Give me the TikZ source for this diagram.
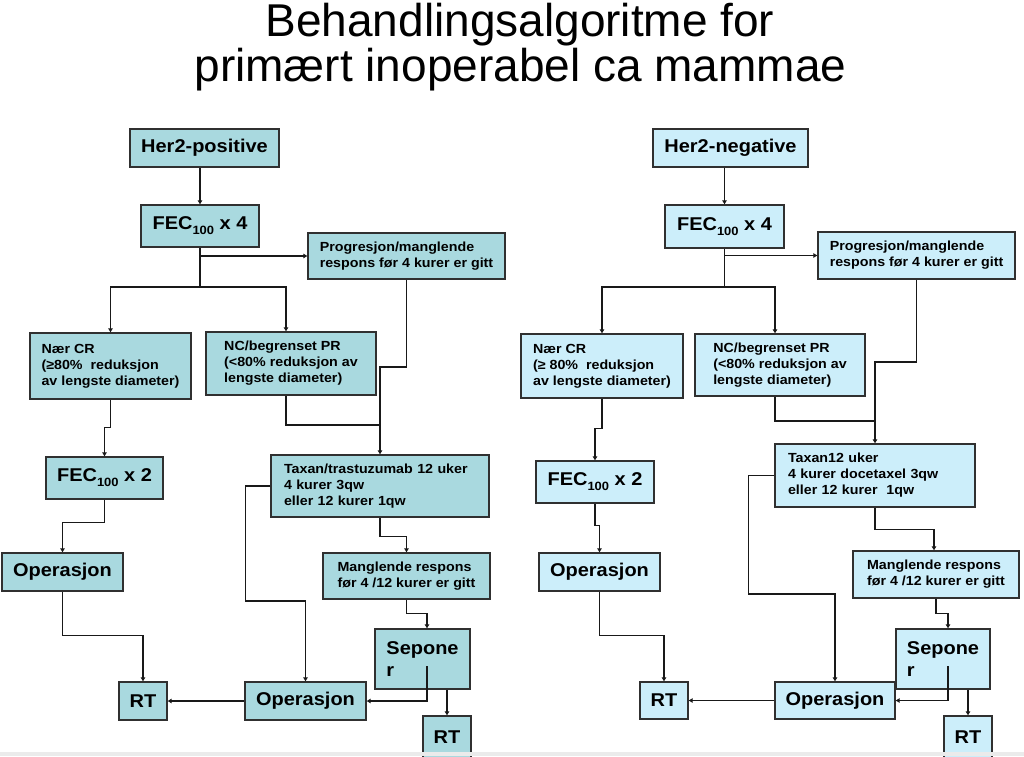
\documentclass[tikz,border=0pt]{standalone}
\usepackage{fontspec}
\setmainfont{Liberation Sans}
\newfontfamily\bxfont{Liberation Sans}[FakeStretch=1.08]
\usetikzlibrary{arrows.meta}
\definecolor{fillL}{HTML}{A9D9DF}
\definecolor{fillR}{HTML}{CCEEFA}
\definecolor{edgec}{HTML}{303030}
\newcommand{\subh}{\raisebox{-5pt}{\fontsize{12}{12}\selectfont 100}}
\begin{document}
\begin{tikzpicture}[x=1pt,y=-1pt,
  box/.style={draw=edgec, line width=1.4pt, inner sep=0pt, font=\bxfont\bfseries\fontsize{18.5}{22}\selectfont, align=center},
  smalltxt/.style={font=\bxfont\bfseries\fontsize{13.2}{16}\selectfont, align=left},
  lft/.style={fill=fillL}, rgt/.style={fill=fillR},
  conn/.style={draw=black!90, line width=1.4pt},
  arr/.style={conn, -{Triangle[length=4pt,width=4.5pt]}},
  ttl/.style={font=\fontsize{46}{44}\selectfont, anchor=base, inner sep=0pt}
]
\useasboundingbox (0,0) rectangle (1024,756);
\fill[white] (0,0) rectangle (1024,756);

% title
\node[ttl] (t1) at (520,36) {Behandlingsalgoritme for};
\node[ttl] (t2) at (520.5,81) {primært inoperabel ca mammae};

% ---------- left ----------
\node[box,lft,minimum width=149pt,minimum height=38pt] (her2p) at (204.5,148) {Her2-positive};
\node[box,lft,minimum width=118pt,minimum height=42pt] (fec4p) at (200,226) {FEC\subh{} x 4};
\node[box,lft,smalltxt,minimum width=197pt,minimum height=46pt] (progp) at (406.5,256) {Progresjon/manglende\\respons før 4 kurer er gitt};
\node[box,lft,smalltxt,minimum width=161pt,minimum height=66pt] (naerp) at (110.5,366) {Nær CR\\(≥80\% \ reduksjon\\av lengste diameter)};
\node[box,lft,smalltxt,minimum width=170pt,minimum height=63pt] (ncp) at (291,363.5) {NC/begrenset PR\\(<80\% reduksjon av\\lengste diameter)};
\node[box,lft,minimum width=117pt,minimum height=42pt] (fec2p) at (104.5,478) {FEC\subh{} x 2};
\node[box,lft,smalltxt,minimum width=218pt,minimum height=62pt,text width=192pt] (taxp) at (380,486) {Taxan/trastuzumab 12 uker\\4 kurer 3qw\\eller 12 kurer 1qw};
\node[box,lft,minimum width=121pt,minimum height=38pt] (op1p) at (62.5,572) {Operasjon};
\node[box,lft,smalltxt,minimum width=167pt,minimum height=46pt] (mangp) at (406.5,576) {Manglende respons\\før 4 /12 kurer er gitt};
\node[box,lft,align=left,minimum width=95pt,minimum height=60pt] (sepp) at (422.5,659) {Sepone\\r};
\node[box,lft,minimum width=48pt,minimum height=38pt] (rt1p) at (143,701) {RT};
\node[box,lft,minimum width=121pt,minimum height=38pt] (op2p) at (305.5,701) {Operasjon};
\node[box,lft,minimum width=48pt,minimum height=42pt] (rt2p) at (447,737) {RT};

\coordinate (bL) at (200,287);
\coordinate (pjL) at (380,367);
\coordinate (njL) at (380,425);
\coordinate (sepLi) at (427,666);
\draw[arr] (fec4p.north |- her2p.south) -- (fec4p.north);
\draw[conn] (fec4p.south) -- (bL);
\draw[arr] (fec4p.south |- progp.west) -- (progp.west);
\draw[arr] (bL) -| (naerp.north);
\draw[arr] (bL) -| ([xshift=-5pt]ncp.north);
\draw[arr] (progp.south) |- (pjL) -- (taxp.north);
\draw[conn] ([xshift=-5pt]ncp.south) |- (njL);
\draw[arr] (naerp.south) -- ++(0,28) -| (fec2p.north);
\draw[arr] (fec2p.south) -- ++(0,23) -| (op1p.north);
\draw[arr] (op1p.south) -- ++(0,44) -| (rt1p.north);
\draw[arr] (taxp.west) -- ++(-25,0) -- ++(0,115) -| (op2p.north);
\draw[arr] (taxp.south) -- ++(0,19) -| (mangp.north);
\draw[arr] (mangp.south) -- ++(0,14) -| ([xshift=4.5pt]sepp.north);
\draw[arr] (sepLi) |- (op2p.east);
\draw[arr] (sepp.south -| rt2p.north) -- (rt2p.north);
\draw[arr] (op2p.west) -- (rt1p.east);

% ---------- right ----------
\node[box,rgt,minimum width=155pt,minimum height=38pt] (her2n) at (730.5,148) {Her2-negative};
\node[box,rgt,minimum width=119pt,minimum height=43pt] (fec4n) at (724.5,226.5) {FEC\subh{} x 4};
\node[box,rgt,smalltxt,minimum width=197pt,minimum height=47pt] (progn) at (916.5,255.5) {Progresjon/manglende\\respons før 4 kurer er gitt};
\node[box,rgt,smalltxt,minimum width=162pt,minimum height=64pt] (naern) at (602,366) {Nær CR\\(≥ 80\% \ reduksjon\\av lengste diameter)};
\node[box,rgt,smalltxt,minimum width=170pt,minimum height=62pt] (ncn) at (780,365) {NC/begrenset PR\\(<80\% reduksjon av\\lengste diameter)};
\node[box,rgt,minimum width=118pt,minimum height=42pt] (fec2n) at (595,482) {FEC\subh{} x 2};
\node[box,rgt,smalltxt,minimum width=200pt,minimum height=63pt,text width=174pt] (taxn) at (875,475.5) {Taxan12 uker\\4 kurer docetaxel 3qw\\eller 12 kurer \ 1qw};
\node[box,rgt,minimum width=121pt,minimum height=38pt] (op1n) at (599.5,572) {Operasjon};
\node[box,rgt,smalltxt,minimum width=166pt,minimum height=47pt] (mangn) at (936,574.5) {Manglende respons\\før 4 /12 kurer er gitt};
\node[box,rgt,align=left,minimum width=94pt,minimum height=60pt] (sepn) at (943,659) {Sepone\\r};
\node[box,rgt,minimum width=48pt,minimum height=37pt] (rt1n) at (664,700.5) {RT};
\node[box,rgt,minimum width=120pt,minimum height=37pt] (op2n) at (835,700.5) {Operasjon};
\node[box,rgt,minimum width=48pt,minimum height=42pt] (rt2n) at (968,737) {RT};

\coordinate (bR) at (724.5,287);
\coordinate (pjR) at (875,362);
\coordinate (njR) at (875,421);
\coordinate (sepRi) at (948,666);
\draw[arr] (fec4n.north |- her2n.south) -- (fec4n.north);
\draw[conn] (fec4n.south) -- (bR);
\draw[arr] (fec4n.south |- progn.west) -- (progn.west);
\draw[arr] (bR) -| (naern.north);
\draw[arr] (bR) -| ([xshift=-5pt]ncn.north);
\draw[arr] (progn.south) |- (pjR) -- (taxn.north);
\draw[conn] ([xshift=-5pt]ncn.south) |- (njR);
\draw[arr] (naern.south) -- ++(0,30) -| (fec2n.north);
\draw[arr] (fec2n.south) -- ++(0,22) -| (op1n.north);
\draw[arr] (op1n.south) -- ++(0,44) -| (rt1n.north);
\draw[arr] (taxn.west) -- ++(-26,0) -- ++(0,118.5) -| (op2n.north);
\draw[arr] (taxn.south) -- ++(0,22) -| ([xshift=-2pt]mangn.north);
\draw[arr] (mangn.south) -- ++(0,15) -| ([xshift=5pt]sepn.north);
\draw[arr] (sepRi) |- (op2n.east);
\draw[arr] (sepn.south -| rt2n.north) -- (rt2n.north);
\draw[arr] (op2n.west) -- (rt1n.east);

\fill[black!8] (0,752) rectangle (1024,756);
\end{tikzpicture}
\end{document}
